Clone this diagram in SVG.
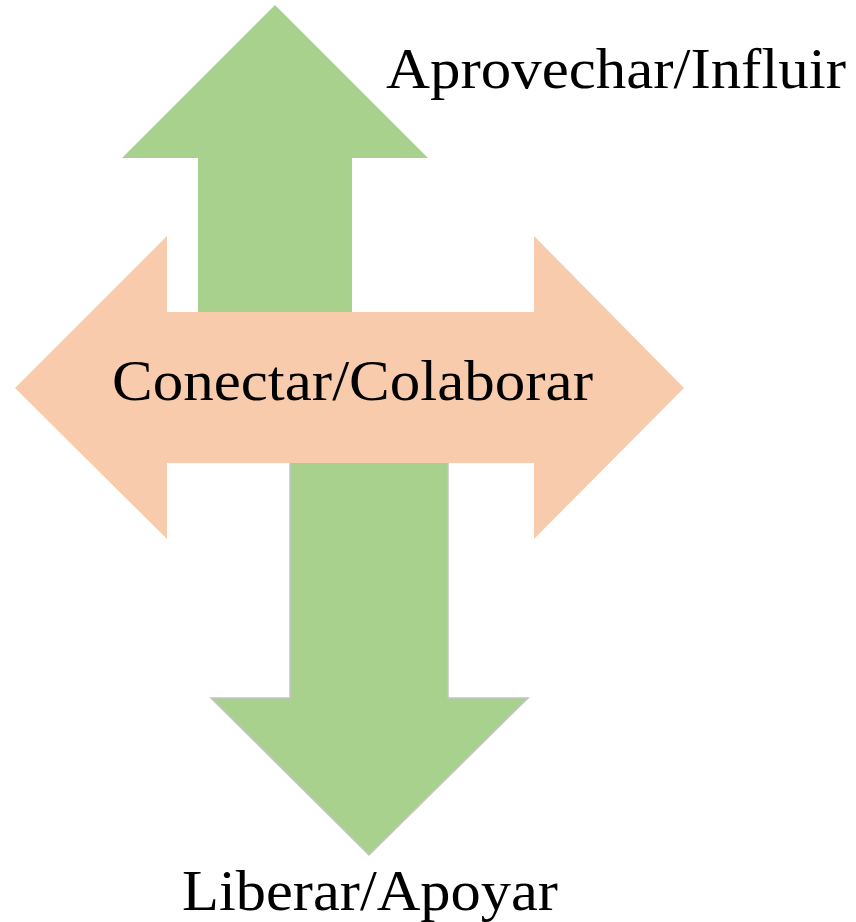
<svg xmlns="http://www.w3.org/2000/svg" width="856" height="922" viewBox="0 0 856 922">
  <style>
    .green { fill: #A9D18E; }
    .orange { fill: #F8CBAD; }
    .label { font-family: "Liberation Serif", "DejaVu Serif", serif; font-size: 56px; fill: #000000; }
  </style>
  <rect width="856" height="922" fill="#FFFFFF"/>
  <g id="connectors">
    <g id="arrow-up">
      <polygon class="green" points="275,5 428,158 352,158 352,330 198,330 198,158 122,158"/>
    </g>
    <g id="arrow-down">
      <polygon class="green" stroke="#C4C4C4" stroke-width="1.5" points="290,440 448,440 448,698 528,698 369,855 211,698 290,698"/>
    </g>
    <g id="arrow-horizontal">
      <polygon class="orange" points="15,388 167,236 167,312 534,312 534,236 684,388 534,539 534,463 167,463 167,539"/>
    </g>
  </g>
  <g id="node-top">
    <text class="label" x="386" y="88" textLength="460" lengthAdjust="spacingAndGlyphs">Aprovechar/Influir</text>
  </g>
  <g id="node-center">
    <text class="label" x="112" y="400" textLength="481" lengthAdjust="spacingAndGlyphs">Conectar/Colaborar</text>
  </g>
  <g id="node-bottom">
    <text class="label" x="182" y="910" textLength="376" lengthAdjust="spacingAndGlyphs">Liberar/Apoyar</text>
  </g>
</svg>
